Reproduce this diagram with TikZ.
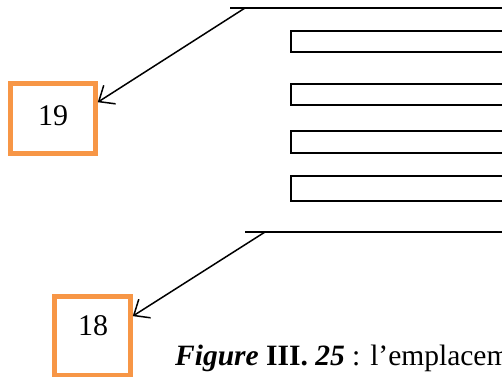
\documentclass[tikz,border=0pt]{standalone}
\usepackage{fontspec}
\setmainfont{Liberation Serif}
\usetikzlibrary{arrows.meta}
\definecolor{boxorange}{HTML}{F79646}
\tikzset{
  numbox/.style={draw=boxorange, line width=4.5pt, inner sep=0pt, fill=white},
  numtext/.style={inner sep=0pt, font=\fontsize{30}{36}\selectfont},
  plate/.style={draw=black, line width=2pt},
  rail/.style={draw=black, line width=2pt},
  pointer/.style={draw=black, line width=1.5pt, -{Straight Barb[length=13pt,width=22pt,line width=1.5pt]}}
}
\begin{document}
\begin{tikzpicture}[x=1pt,y=-1pt]
\useasboundingbox (0,0) rectangle (502,378);
\clip (0,0) rectangle (502,378);
% rails
\draw[rail] (230,7.5) -- (520,7.5);
\draw[rail] (245,232) -- (520,232);
% plates
\draw[plate] (291,31) rectangle (520,52);
\draw[plate] (291,84) rectangle (520,105);
\draw[plate] (291,131) rectangle (520,153);
\draw[plate] (291,176) rectangle (520,201);
% boxes
\node[numbox, minimum width=85pt, minimum height=70pt] (b19) at (53,118.5) {};
\node[numtext] (t19) at (53,116) {19};
\node[numbox, minimum width=76pt, minimum height=78.5pt] (b18) at (92.5,335.75) {};
\node[numtext] (t18) at (93,326) {18};
% arrows
\coordinate (s19) at (245,8);
\coordinate (s18) at (265,232);
\draw[pointer] (s19) -- (b19.20);
\draw[pointer] (s18) -- (b18.26);
% caption
\node[anchor=base west, inner sep=0pt, font=\fontsize{29.5}{35}\selectfont] (cap) at (175,365)
  {\textbf{\textit{Figure}} \textbf{III}\textbf{.} \textbf{\textit{25}} : l’emplacem};
\end{tikzpicture}
\end{document}
